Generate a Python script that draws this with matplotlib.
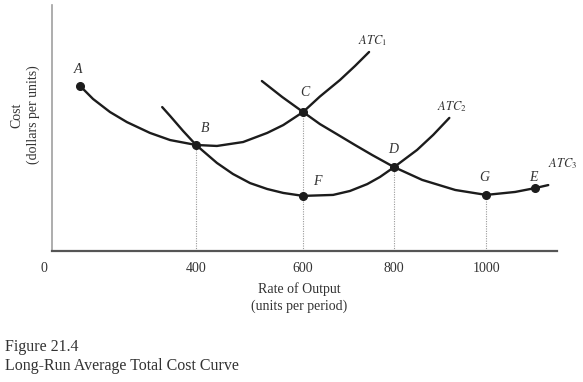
import matplotlib

matplotlib.use("Agg")
import matplotlib.pyplot as plt
import matplotlib.transforms as mtransforms
import numpy as np

# output (units per period) and cost readings taken along each curve
atc1_output = [78, 114, 161, 208, 272, 328, 400, 439, 488, 533, 563, 600, 637, 681, 714, 745]
atc1_cost = [67.1, 61.8, 56.5, 52.4, 48.0, 45.1, 43.1, 42.7, 44.3, 48.0, 51.2, 56.5, 62.8, 69.5, 75.2, 80.9]

atc2_output = [306, 328, 364, 400, 439, 469, 501, 533, 563, 600, 666, 703, 741, 769, 800, 850, 885, 920]
atc2_cost = [58.5, 54.9, 48.8, 43.1, 35.8, 31.3, 27.6, 25.2, 23.6, 22.4, 22.8, 24.4, 27.2, 30.1, 34.1, 41.1, 47.2, 54.1]

atc3_output = [523, 561, 600, 637, 677, 714, 752, 800, 861, 933, 1000, 1063, 1107, 1135]
atc3_cost = [69.1, 62.6, 56.5, 51.6, 47.2, 43.1, 39.0, 34.1, 28.9, 24.8, 22.8, 24.0, 25.6, 26.8]

point_names = ["A", "B", "C", "D", "F", "G", "E"]
point_output = [78, 400, 600, 800, 600, 1000, 1107]
point_cost = [67.1, 43.1, 56.5, 34.1, 22.4, 22.8, 25.6]

tick_values = [0, 400, 600, 800, 1000]
tick_labels = ["0", "400", "600", "800", "1000"]

# the sketch is not drawn to a linear scale: knots of the drawn x axis
scale_out = [0, 400, 600, 800, 1000, 1200]
scale_pos = [52, 196, 303, 394, 486, 578]

INK = "#1c1c1c"
TEXT = "#333333"
SERIF = "Liberation Serif"

plt.rcParams["mathtext.fontset"] = "stix"


def _forward(x):
    return np.interp(x, scale_out, scale_pos)


def _inverse(p):
    return np.interp(p, scale_pos, scale_out)


fig = plt.figure(figsize=(5.83, 3.82), dpi=100)
ax = fig.add_axes([52 / 583, 1 - 251 / 382, 505 / 583, 246 / 382])
ax.set_xscale("function", functions=(_forward, _inverse))
ax.set_xlim(0, 1154)
ax.set_ylim(0, 100)

for xs, ys in [(atc1_output, atc1_cost), (atc2_output, atc2_cost), (atc3_output, atc3_cost)]:
    ax.plot(xs, ys, color=INK, lw=1.7, solid_capstyle="round", solid_joinstyle="round", zorder=3)

# dotted drop lines from B, C, D and G
drops = [1, 2, 3, 5]
ax.vlines(
    [point_output[i] for i in drops],
    0,
    [point_cost[i] for i in drops],
    colors="#9a9a9a",
    linestyles=(0, (1, 1.2)),
    lw=0.8,
    zorder=2,
)

ax.plot(point_output, point_cost, "o", color=INK, ms=5.5, zorder=4)

label_offsets = {
    "A": (-2, 16),
    "B": (9, 16),
    "C": (2, 20),
    "D": (-1, 18),
    "F": (14, 14),
    "G": (-2, 17),
    "E": (-2, 11),
}
for name, x, y in zip(point_names, point_output, point_cost):
    ax.annotate(
        name,
        (x, y),
        xytext=label_offsets[name],
        textcoords="offset pixels",
        ha="center",
        va="center",
        fontsize=10,
        fontstyle="italic",
        family=SERIF,
        color=TEXT,
    )

curve_labels = [
    (r"$ATC_1$", atc1_output[-1], atc1_cost[-1], (-11, 11)),
    (r"$ATC_2$", atc2_output[-1], atc2_cost[-1], (-12, 11)),
    (r"$ATC_3$", atc3_output[-1], atc3_cost[-1], (0, 21)),
]
for text, x, y, off in curve_labels:
    ax.annotate(
        text,
        (x, y),
        xytext=off,
        textcoords="offset pixels",
        ha="left",
        va="center",
        fontsize=9,
        color=TEXT,
    )

for side in ["top", "right"]:
    ax.spines[side].set_visible(False)
ax.spines["left"].set_color("#a0a0a0")
ax.spines["left"].set_linewidth(1.2)
ax.spines["bottom"].set_color("#555555")
ax.spines["bottom"].set_linewidth(1.6)

ax.set_yticks([])
ax.set_xticks(tick_values)
ax.set_xticklabels(tick_labels, family=SERIF, fontsize=10, color=TEXT)
ax.tick_params(axis="x", length=0, pad=8)
zero_label = ax.xaxis.get_major_ticks()[0].label1
zero_label.set_transform(
    zero_label.get_transform() + mtransforms.ScaledTranslation(-8 / 100, 0, fig.dpi_scale_trans)
)

ax.set_xlabel(
    "Rate of Output\n(units per period)",
    family=SERIF,
    fontsize=10,
    color=TEXT,
    linespacing=1.35,
)
ax.xaxis.set_label_coords(0.49, -0.125)
ax.xaxis.label.set_va("top")

ax.set_ylabel("Cost\n(dollars per units)", family=SERIF, fontsize=10, color=TEXT, linespacing=1.3)
ax.yaxis.set_label_coords(-0.053, 0.553)
ax.yaxis.label.set_va("center")

fig.text(5 / 583, 1 - 347 / 382, "Figure 21.4", family=SERIF, fontsize=11.5, color=TEXT, va="center")
fig.text(
    5 / 583,
    1 - 366 / 382,
    "Long-Run Average Total Cost Curve",
    family=SERIF,
    fontsize=11.5,
    color=TEXT,
    va="center",
)

fig.savefig("out.png", dpi=100)
